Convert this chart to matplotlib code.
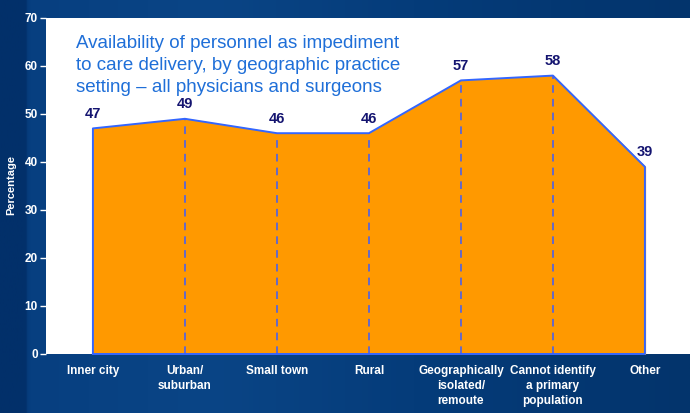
import numpy as np
import matplotlib.pyplot as plt
from matplotlib.colors import LinearSegmentedColormap

plt.rcParams["font.family"] = ["Liberation Sans", "DejaVu Sans"]

categories = ["Inner city", "Urban/\nsuburban", "Small town", "Rural",
              "Geographically\nisolated/\nremoute", "Cannot identify\na primary\npopulation", "Other"]
values = [47, 49, 46, 46, 57, 58, 39]
yticks = [0, 10, 20, 30, 40, 50, 60, 70]

title = ("Availability of personnel as impediment\n"
         "to care delivery, by geographic practice\n"
         "setting \u2013 all physicians and surgeons")

fig = plt.figure(figsize=(6.9, 4.13), dpi=100)

# dark blue background gradient
bg = fig.add_axes([0, 0, 1, 1], zorder=-10)
grad = np.linspace(0, 1, 256).reshape(1, -1)
cmap = LinearSegmentedColormap.from_list("bg", [(0, "#02306a"), (0.035, "#02306a"), (0.04, "#073f80"),
                                                (0.3, "#0a4586"), (0.6, "#053c7a"), (1, "#03346c")])
bg.imshow(grad, aspect="auto", cmap=cmap, extent=[0, 1, 0, 1])
bg.axis("off")

ax = fig.add_axes([46 / 690, 1 - 354 / 413, 644 / 690, 336 / 413])
ax.set_facecolor("white")
x = np.arange(len(values))

ax.fill_between(x, 0, values, color="#ff9900", zorder=2)
ax.plot(np.r_[x[0], x, x[-1], x[0]], np.r_[0, values, 0, 0], color="#3366ff",
        lw=1.4, zorder=3, clip_on=False)
for xi, v in zip(x[1:-1], values[1:-1]):
    ax.plot([xi, xi], [0, v], color="#3a5cff", lw=1.1, ls=(0, (5, 4)), zorder=3)

for xi, v in zip(x, values):
    ax.text(xi, v + 1.6, str(v), ha="center", va="bottom", color="#141470",
            fontsize=10.5, fontweight="bold", zorder=4)

ax.text(-0.18, 66.4, title, ha="left", va="top", color="#1f6fd8",
        fontsize=13.5, linespacing=1.36, zorder=4)

ax.set_xlim(-0.51, 6.49)
ax.set_ylim(0, 70)
ax.set_yticks(yticks)
ax.set_xticks(x)
ax.set_xticklabels(categories, color="white", fontsize=8.5, fontweight="bold", linespacing=1.33)
ax.tick_params(axis="x", length=0, pad=8)
ax.tick_params(axis="y", colors="white", labelsize=8.5, length=4, width=1, direction="out", pad=2)
for lab in ax.get_yticklabels():
    lab.set_fontweight("bold")
for s in ax.spines.values():
    s.set_visible(False)

fig.text(11 / 690, 1 - 185 / 413, "Percentage", rotation=90, ha="center", va="center",
         color="white", fontsize=8, fontweight="bold")

fig.savefig("out.png", dpi=100)
